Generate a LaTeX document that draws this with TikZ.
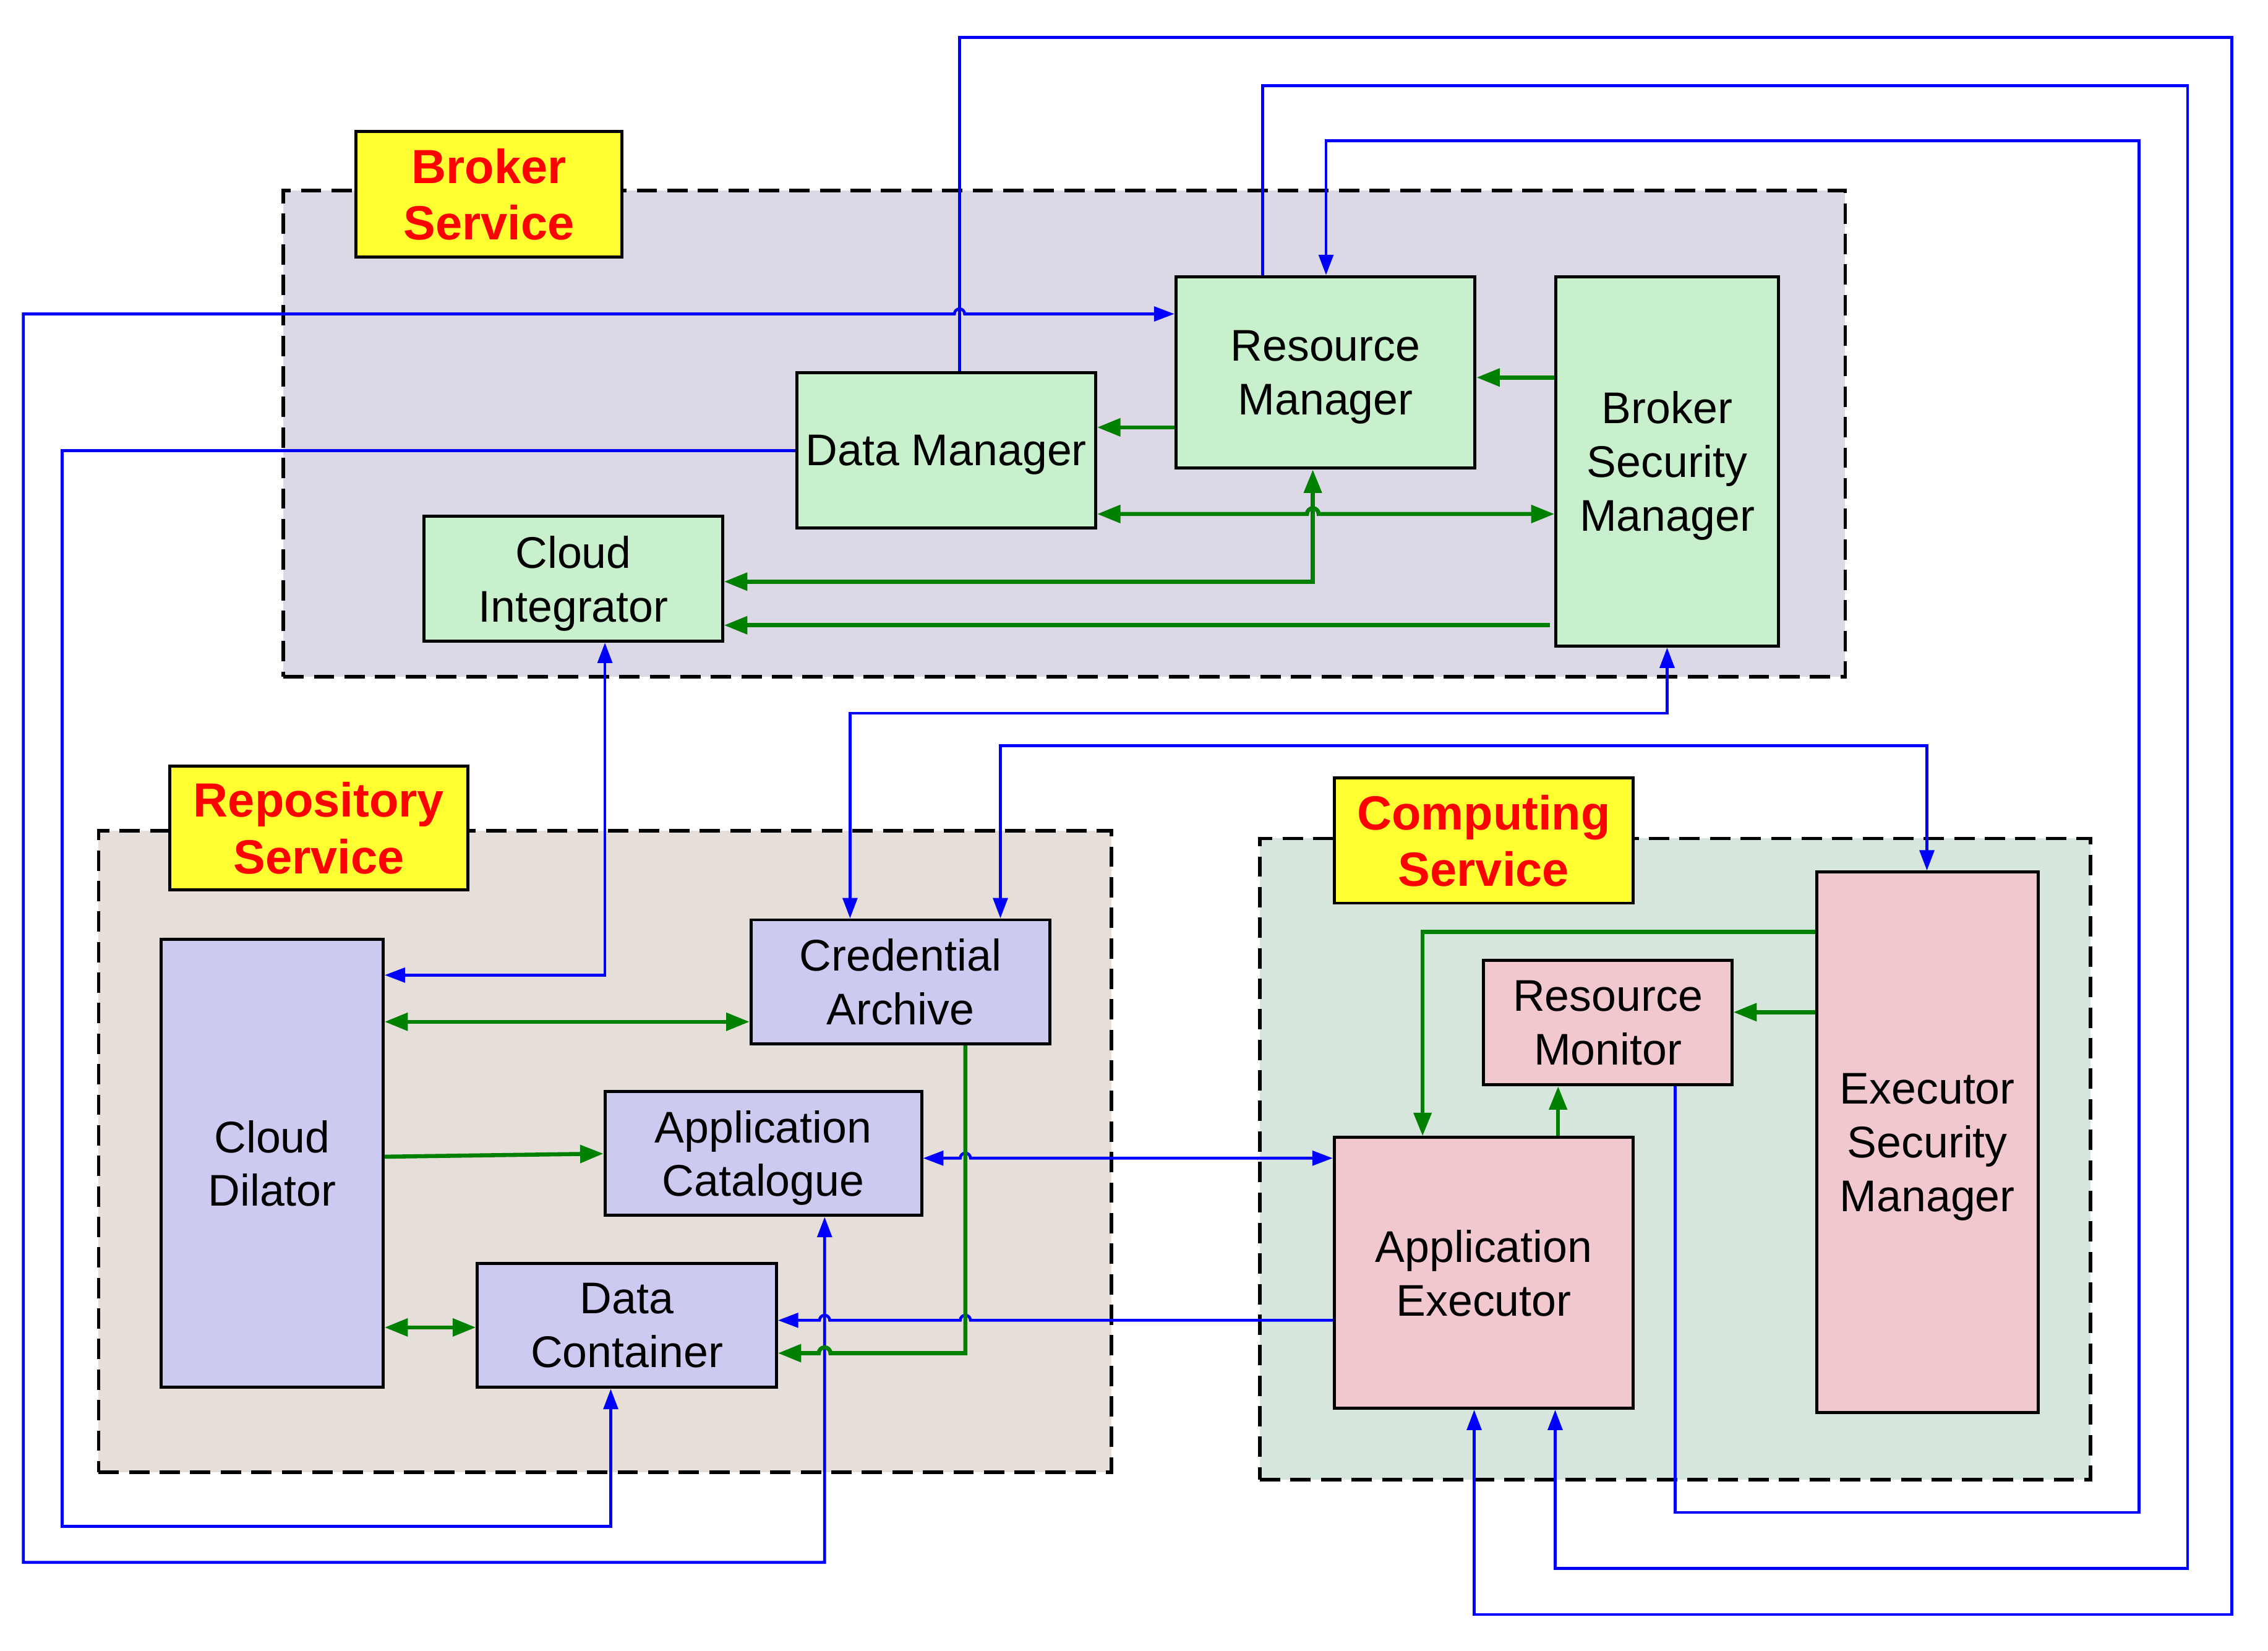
\documentclass[tikz,border=0pt]{standalone}
\usepackage{fontspec}
\setmainfont{Liberation Sans}
\usetikzlibrary{arrows.meta}
\newcommand\bxfont{\fontsize{30.5}{37}\selectfont}
\newcommand\lbfont{\fontsize{33}{39}\selectfont\bfseries}
\definecolor{bline}{RGB}{0,0,255}
\definecolor{gline}{RGB}{0,128,0}
\definecolor{fgreen}{RGB}{200,240,204}
\definecolor{fpurple}{RGB}{204,202,240}
\definecolor{fpink}{RGB}{240,200,206}
\definecolor{cbroker}{RGB}{221,216,230}
\definecolor{crepo}{RGB}{230,222,216}
\definecolor{ccomp}{RGB}{214,230,221}
\definecolor{lyellow}{RGB}{255,255,50}
\definecolor{lred}{RGB}{255,0,0}
\pgfdeclarelayer{bglayer}
\pgfdeclarelayer{connlayer}
\pgfsetlayers{bglayer,connlayer,main}
\tikzset{
  box/.style={draw=black, line width=2.1pt, inner sep=0pt, align=center, font=\bxfont, text depth=0pt},
  gbox/.style={box, fill=fgreen},
  pbox/.style={box, fill=fpurple},
  kbox/.style={box, fill=fpink},
  cont/.style={draw=black, line width=2.4pt, dash pattern=on 14pt off 7pt, inner sep=0pt},
  lbl/.style={draw=black, line width=2.1pt, fill=lyellow, inner sep=0pt, align=center, font=\lbfont, text=lred, text depth=0pt},
  bl/.style={draw=bline, line width=2pt, -{Triangle[length=14pt,width=10pt]}},
  blb/.style={draw=bline, line width=2pt, {Triangle[length=14pt,width=10pt]}-{Triangle[length=14pt,width=10pt]}},
  gl/.style={draw=gline, line width=2.8pt, -{Triangle[length=16pt,width=12pt]}},
  glb/.style={draw=gline, line width=2.8pt, {Triangle[length=16pt,width=12pt]}-{Triangle[length=16pt,width=12pt]}},
}
\begin{document}
\begin{tikzpicture}[x=1pt,y=-1pt]
\useasboundingbox (0,0) rectangle (1560.02,1135.44);
% boxes
\node[gbox, minimum width=205.7pt, minimum height=131.7pt] (rm) at (911.7,256.1) {Resource\\Manager};
\node[gbox, minimum width=152.9pt, minimum height=254pt] (bsm) at (1146.7,317.3) {Broker\\Security\\Manager};
\node[gbox, minimum width=205.6pt, minimum height=106.4pt] (dm) at (650.8,309.7) {Data Manager};
\node[gbox, minimum width=205.2pt, minimum height=85.9pt] (ci) at (394.4,398) {Cloud\\Integrator};
\node[pbox, minimum width=152.6pt, minimum height=308.3pt] (cd) at (187.2,800) {Cloud\\Dilator};
\node[pbox, minimum width=205.7pt, minimum height=85.4pt] (ca) at (619.4,675.3) {Credential\\Archive};
\node[pbox, minimum width=217.8pt, minimum height=85.3pt] (ac) at (525,793.2) {Application\\Catalogue};
\node[pbox, minimum width=205.7pt, minimum height=85.3pt] (dc) at (431.2,911.5) {Data\\Container};
\node[kbox, minimum width=170.7pt, minimum height=85.7pt] (rmon) at (1105.9,703.2) {Resource\\Monitor};
\node[kbox, minimum width=205.7pt, minimum height=186.2pt] (ae) at (1020.6,875.4) {Application\\Executor};
\node[kbox, minimum width=152.4pt, minimum height=371.7pt] (esm) at (1325.7,785.6) {Executor\\Security\\Manager};
\begin{pgfonlayer}{bglayer}
% containers
\node[cont, fill=cbroker, minimum width=1074.3pt, minimum height=334.5pt] (brk) at (732.05,298.25) {};
\node[cont, fill=crepo, minimum width=696.6pt, minimum height=441.3pt] (rep) at (416.1,791.95) {};
\node[cont, fill=ccomp, minimum width=571.3pt, minimum height=441pt] (cmp) at (1152.25,797.1) {};
% labels
\node[lbl, minimum width=183pt, minimum height=86.1pt] (lbrk) at (336.4,133.55) {Broker\\Service};
\node[lbl, minimum width=204.8pt, minimum height=85.2pt] (lrep) at (219.3,569.4) {Repository\\Service};
\node[lbl, minimum width=205.7pt, minimum height=86.1pt] (lcmp) at (1020.55,578.05) {Computing\\Service};
\end{pgfonlayer}
\begin{pgfonlayer}{connlayer}
% blue connectors
\draw[bl] (660,0 |- dm.north) -- (660,25.6) -- (1535.2,25.6) -- (1535.2,1110.3) -- (1014,1110.3) -- (1014,0 |- ae.south);
\draw[bl] (868.6,0 |- rm.north) -- (868.6,59) -- (1504.7,59) -- (1504.7,1078.6) -- (1069.7,1078.6) -- (1069.7,0 |- ae.south);
\draw[bl] (1152.2,0 |- rmon.south) -- (1152.2,1040.2) -- (1471.3,1040.2) -- (1471.3,96.7) -- (912.1,96.7) -- (912.1,0 |- rm.north);
\draw[blb] (567.2,0 |- ac.south) -- (567.2,1074.5) -- (16.1,1074.5) -- (16.1,215.9) -- (656.5,215.9) arc[start angle=180,end angle=0,radius=3.5pt] -- (rm.west |- 0,215.9);
\draw[bl] (dm.west |- 0,309.8) -- (42.7,309.8) -- (42.7,1049.7) -- (420.1,1049.7) -- (420.1,0 |- dc.south);
\draw[blb] (416.1,0 |- ci.south) -- (416.1,670.6) -- (cd.east |- 0,670.6);
\draw[blb] (1146.7,0 |- bsm.south) -- (1146.7,490.5) -- (584.7,490.5) -- (584.7,0 |- ca.north);
\draw[blb] (688.1,0 |- ca.north) -- (688.1,512.7) -- (1325.4,512.7) -- (1325.4,0 |- esm.north);
\draw[blb] (ac.east |- 0,796.5) -- (660.5,796.5) arc[start angle=180,end angle=0,radius=3.5pt] -- (ae.west |- 0,796.5);
\draw[bl] (ae.west |- 0,908) -- (667.5,908) arc[start angle=0,end angle=180,radius=3.5pt] -- (570.7,908) arc[start angle=0,end angle=180,radius=3.5pt] -- (dc.east |- 0,908);
% green connectors
\draw[gl] (bsm.west |- 0,259.6) -- (rm.east |- 0,259.6);
\draw[gl] (rm.west |- 0,293.9) -- (dm.east |- 0,293.9);
\draw[glb] (dm.east |- 0,353.5) -- (899,353.5) arc[start angle=180,end angle=0,radius=4pt] -- (bsm.west |- 0,353.5);
\draw[glb] (ci.east |- 0,400) -- (903,400) -- (903,0 |- rm.south);
\draw[gl] ([xshift=-3pt]bsm.west |- 0,430) -- (ci.east |- 0,430);
\draw[glb] (cd.east |- 0,702.7) -- (ca.west |- 0,702.7);
\draw[gl] (cd.east |- 0,795.5) -- (ac.west |- 0,793.4);
\draw[glb] (cd.east |- 0,912.9) -- (dc.west |- 0,912.9);
\draw[gl] (664,0 |- ca.south) -- (664,930.6) -- (571.2,930.6) arc[start angle=0,end angle=180,radius=4pt] -- (dc.east |- 0,930.6);
\draw[gl] (esm.west |- 0,640.9) -- (978.5,640.9) -- (978.5,0 |- ae.north);
\draw[gl] (esm.west |- 0,696.1) -- (rmon.east |- 0,696.1);
\draw[gl] (1071.7,0 |- ae.north) -- (1071.7,0 |- rmon.south);
\end{pgfonlayer}
\end{tikzpicture}
\end{document}
